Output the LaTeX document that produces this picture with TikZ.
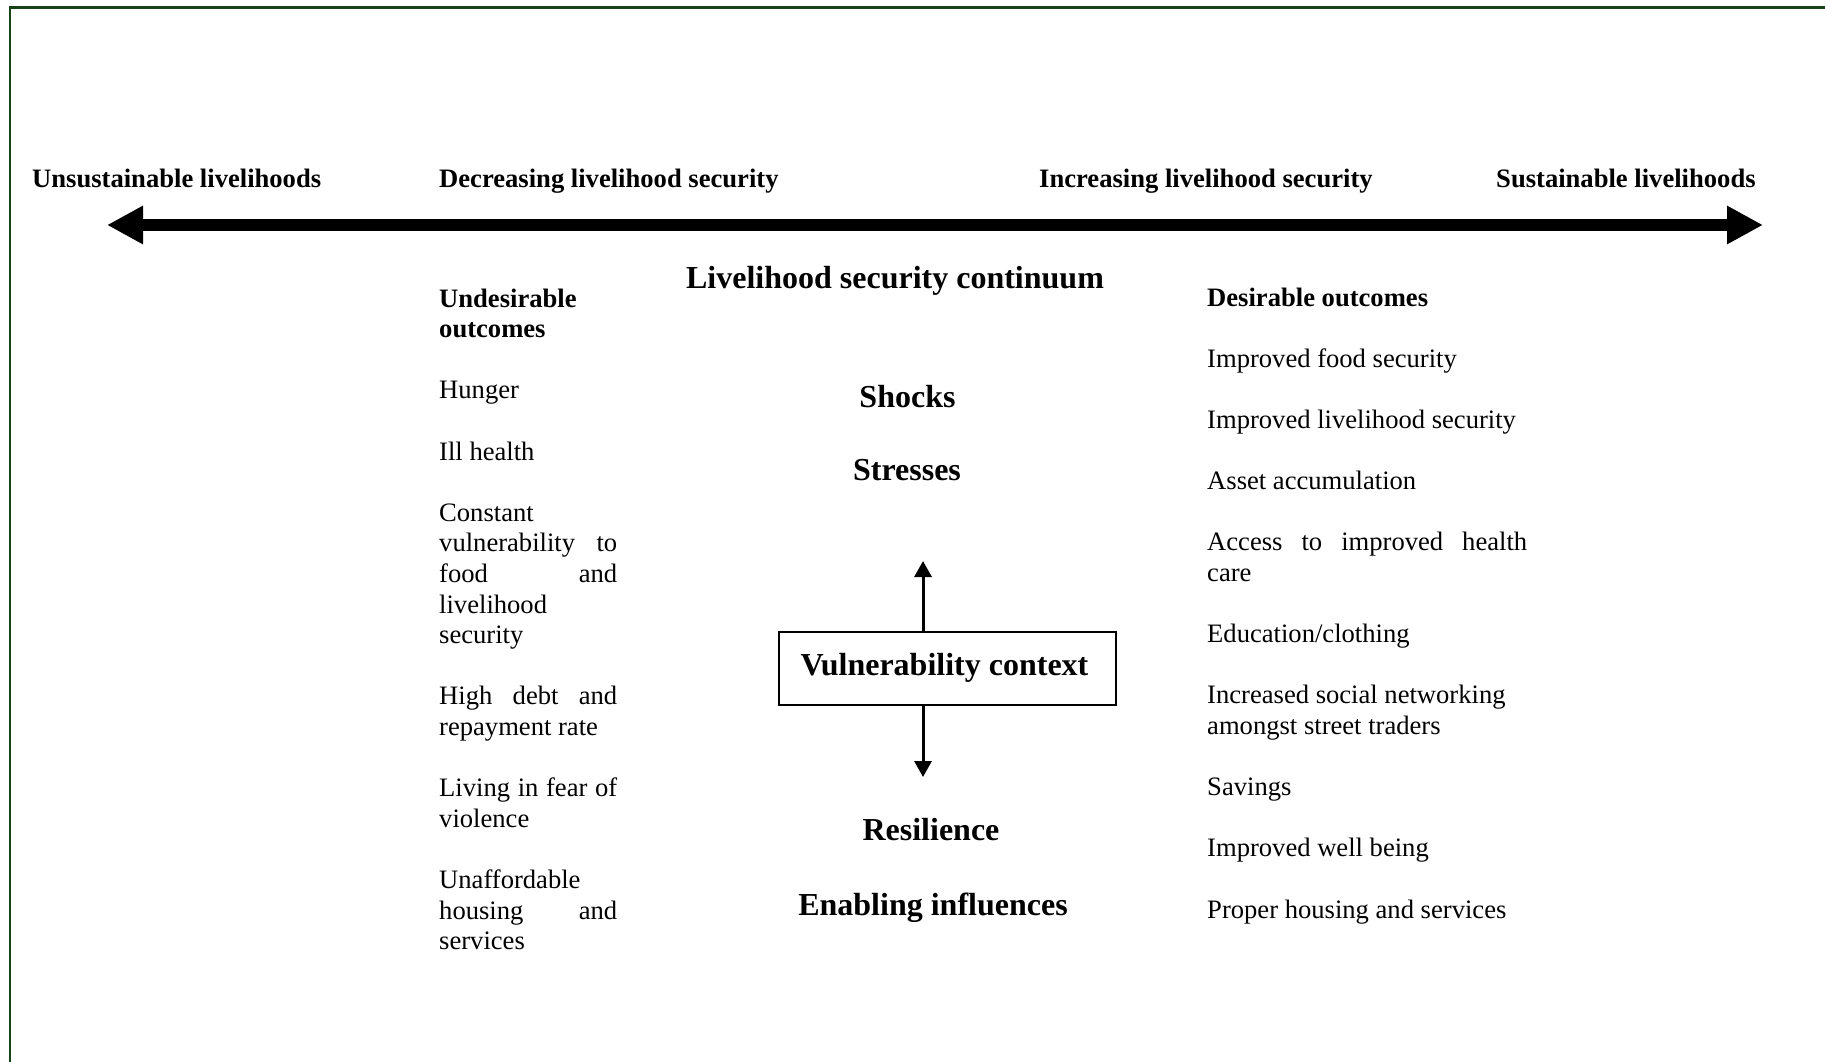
\documentclass[tikz,border=0pt]{standalone}
\usepackage{fontspec}
\setmainfont{Liberation Serif}
\usetikzlibrary{arrows.meta}
\definecolor{framegreen}{RGB}{22,68,22}
% one line of a column: left-set, or stretched to the full width with \hfill
\newdimen\colw
\newcommand\Ln[1]{\hbox to\colw{#1\hfil}}
\newcommand\Jl[1]{\hbox to\colw{#1}}
\newcommand\gap{\vskip 30.6pt}
\begin{document}
\begin{tikzpicture}[x=1pt,y=-1pt,
  small/.style={font=\fontsize{26.6}{30.6}\selectfont},
  smallbf/.style={font=\fontsize{26.6}{30.6}\selectfont\bfseries},
  big/.style={font=\fontsize{32}{36}\selectfont\bfseries},
  lbl/.style={inner sep=0pt, anchor=base west},
  ctr/.style={inner sep=0pt, anchor=base},
  col/.style={inner sep=0pt, anchor=base west},
  axis/.style={line width=12pt, {Triangle[length=36pt,width=36pt]}-{Triangle[length=36pt,width=36pt]}},
  link/.style={line width=3pt, -{Triangle[length=16pt,width=17pt]}},
  ctxbox/.style={draw, line width=2pt, minimum width=337pt, minimum height=73pt, inner sep=0pt}]

\useasboundingbox (0,0) rectangle (1825,1062);

% frame
\draw[framegreen, line width=2.2pt] (10,1062) -- (10,7.5) -- (1825,7.5);

% continuum axis
\coordinate (lo) at (107,225);
\coordinate (hi) at (1763,225);
\draw[axis] (lo) -- (hi);

\node[lbl, smallbf] (unsust) at (32,187) {Unsustainable livelihoods};
\node[lbl, smallbf] (decr) at (439,187) {Decreasing livelihood security};
\node[lbl, smallbf] (incr) at (1039,187) {Increasing livelihood security};
\node[lbl, smallbf] (sust) at (1496,187) {Sustainable livelihoods};

\node[ctr, big] (cont) at (895,288) {Livelihood security continuum};

% centre column
\node[ctr, big] (shocks) at (907.5,407) {Shocks};
\node[ctr, big] (stress) at (907,480) {Stresses};
\node[ctxbox, big, text depth=9pt] (vc) at (947.5,668.5) {\hspace*{-6pt}Vulnerability context};
\node[ctr, big] (resil) at (931,840) {Resilience};
\node[ctr, big] (enab) at (933,915) {Enabling influences};

\coordinate (stemx) at (923,0);
\coordinate (uptip) at (923,561);
\coordinate (downtip) at (923,777);
\draw[link] (vc.north -| stemx) -- (uptip);
\draw[link] (vc.south -| stemx) -- (downtip);

% outcome columns
\node[col, small] (bad) at (439,307) {\colw=178pt\vtop{%
  \Ln{\bfseries Undesirable}\Ln{\bfseries outcomes}\gap
  \Ln{Hunger}\gap
  \Ln{Ill health}\gap
  \Ln{Constant}\Jl{vulnerability\hfill to}\Jl{food\hfill and}\Ln{livelihood}\Ln{security}\gap
  \Jl{High\hfill debt\hfill and}\Ln{repayment rate}\gap
  \Jl{Living\hfill in\hfill fear\hfill of}\Ln{violence}\gap
  \Ln{Unaffordable}\Jl{housing\hfill and}\Ln{services}}};

\node[col, small] (good) at (1207,306) {\colw=320pt\vtop{%
  \Ln{\bfseries Desirable outcomes}\gap
  \Ln{Improved food security}\gap
  \Ln{Improved livelihood security}\gap
  \Ln{Asset accumulation}\gap
  \Jl{Access\hfill to\hfill improved\hfill health}\Ln{care}\gap
  \Ln{Education/clothing}\gap
  \Ln{Increased social networking}\Ln{amongst street traders}\gap
  \Ln{Savings}\gap
  \Ln{Improved well being}\gap
  \Ln{Proper housing and services}}};

\end{tikzpicture}
\end{document}
